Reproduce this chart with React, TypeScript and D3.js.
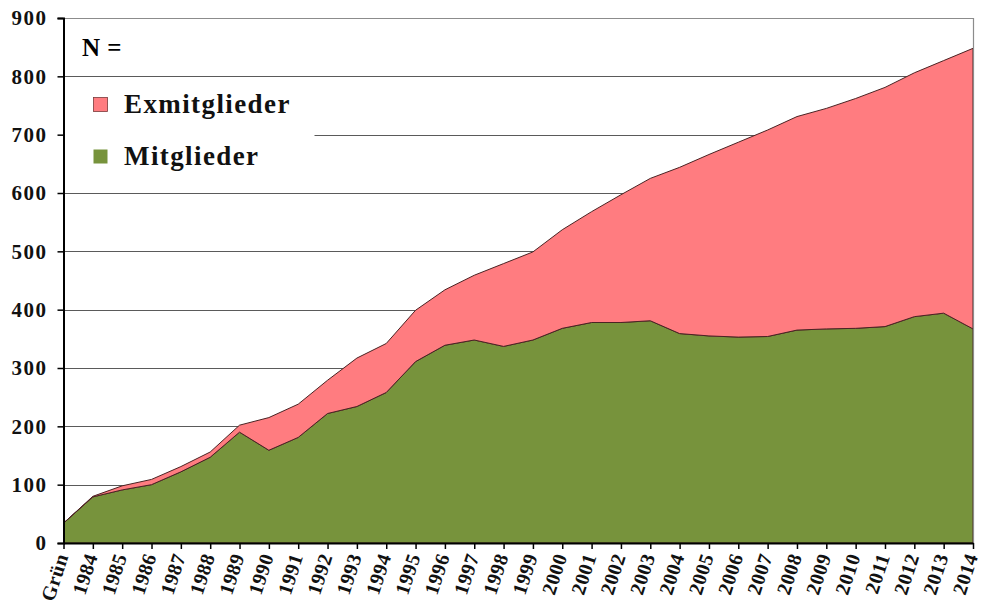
import React, { useEffect, useRef } from 'react';
import * as d3 from 'd3';

const years = ['Grün', '1984', '1985', '1986', '1987', '1988', '1989', '1990', '1991', '1992', '1993', '1994', '1995', '1996', '1997', '1998', '1999', '2000', '2001', '2002', '2003', '2004', '2005', '2006', '2007', '2008', '2009', '2010', '2011', '2012', '2013', '2014'];
const mitglieder = [34, 79, 91, 100, 122, 147, 190, 159, 181, 222, 234, 258, 311, 339, 348, 337, 348, 368, 378, 378, 381, 359, 355, 353, 354, 365, 367, 368, 371, 388, 394, 367];
const exmitglieder = [0, 1, 7, 9, 9, 9, 12, 56, 57, 57, 83, 84, 88, 95, 111, 142, 151, 169, 190, 219, 244, 285, 311, 334, 354, 366, 378, 394, 410, 418, 433, 481];
const yTicks = [0, 100, 200, 300, 400, 500, 600, 700, 800, 900];

const series = [
  { key: 'mitglieder', label: 'Mitglieder', color: '#77933c' },
  { key: 'exmitglieder', label: 'Exmitglieder', color: '#ff7c80' },
];

const font = '"Liberation Serif", "DejaVu Serif", serif';

const App = () => {
  const d3Container = useRef<SVGSVGElement | null>(null);

  useEffect(() => {
    if (!d3Container.current) return;
    const svg = d3.select(d3Container.current);
    svg.selectAll('*').remove();

    const margin = { top: 18, right: 8, bottom: 69, left: 63.5 };
    const width = 981;
    const height = 612;

    const xScale = d3.scalePoint().domain(years).range([margin.left, width - margin.right]);
    const yScale = d3.scaleLinear().domain([0, 900]).range([height - margin.bottom, margin.top]);

    const table = years.map((y, i) => ({ year: y, mitglieder: mitglieder[i], exmitglieder: exmitglieder[i] }));
    const stacked = d3.stack().keys(series.map((s) => s.key))(table as any);

    // gridlines
    svg
      .append('g')
      .selectAll('line')
      .data(yTicks.filter((t) => t > 0))
      .join('line')
      .attr('x1', margin.left)
      .attr('x2', width - margin.right)
      .attr('y1', (d) => Math.round(yScale(d)) + 0.5)
      .attr('y2', (d) => Math.round(yScale(d)) + 0.5)
      .attr('stroke', (d) => (d === 900 ? '#8c8c8c' : '#5a5a5a'))
      .attr('stroke-width', 1.2);

    const area = d3
      .area<any>()
      .x((d) => xScale(d.data.year))
      .y0((d) => yScale(d[0]))
      .y1((d) => yScale(d[1]));

    svg
      .append('g')
      .selectAll('path')
      .data(stacked)
      .join('path')
      .attr('d', area as any)
      .attr('fill', (d, i) => series[i].color)
      .attr('stroke', '#4a2323')
      .attr('stroke-width', 1)
      .attr('stroke-linejoin', 'round');

    // right border
    svg
      .append('line')
      .attr('x1', width - margin.right + 0.5)
      .attr('x2', width - margin.right + 0.5)
      .attr('y1', yScale(900))
      .attr('y2', yScale(0))
      .attr('stroke', '#8c8c8c')
      .attr('stroke-width', 1.2);

    // legend
    svg.append('rect').attr('x', margin.left + 1).attr('y', 84).attr('width', 250).attr('height', 92).attr('fill', '#fff');
    svg
      .append('text')
      .attr('x', 82)
      .attr('y', 56)
      .attr('font-family', font)
      .attr('font-weight', 'bold')
      .attr('font-size', 25)
      .attr('letter-spacing', 0.5)
      .text('N =');

    const legendItems = [series[1], series[0]];
    legendItems.forEach((s, i) => {
      const ly = 97 + i * 52;
      svg
        .append('rect')
        .attr('x', 93.5)
        .attr('y', ly + 0.5)
        .attr('width', 14)
        .attr('height', 14)
        .attr('fill', s.color)
        .attr('stroke', i === 0 ? '#7a3a3a' : 'none')
        .attr('stroke-width', 0.8);
      svg
        .append('text')
        .attr('x', 124)
        .attr('y', ly + 16)
        .attr('font-family', font)
        .attr('font-weight', 'bold')
        .attr('font-size', 27)
        .attr('letter-spacing', 1.4)
        .attr('fill', '#111')
        .text(s.label);
    });

    // y axis
    const yAxis = svg
      .append('g')
      .attr('transform', `translate(${margin.left},0)`)
      .call(d3.axisLeft(yScale).tickValues(yTicks).tickSize(6).tickPadding(10));
    yAxis.select('.domain').attr('stroke', '#000').attr('stroke-width', 2);
    yAxis.selectAll('.tick line').attr('stroke', '#000').attr('stroke-width', 1.5);
    yAxis
      .selectAll('.tick text')
      .attr('font-family', font)
      .attr('font-weight', 'bold')
      .attr('font-size', 21)
      .attr('letter-spacing', 1.5)
      .attr('fill', '#111');

    // x axis
    const xAxis = svg
      .append('g')
      .attr('transform', `translate(0,${yScale(0)})`)
      .call(d3.axisBottom(xScale).tickSize(6).tickSizeOuter(0));
    xAxis.select('.domain').attr('stroke', '#000').attr('stroke-width', 2);
    xAxis.selectAll('.tick line').attr('stroke', '#000').attr('stroke-width', 1.5);
    xAxis
      .selectAll('.tick text')
      .attr('font-family', font)
      .attr('font-weight', 'bold')
      .attr('font-size', 20)
      .attr('letter-spacing', 0.5)
      .attr('fill', '#111')
      .attr('text-anchor', 'end')
      .attr('x', 0)
      .attr('y', 0)
      .attr('dy', '0.35em')
      .attr('transform', 'translate(-2,11) rotate(-72)');
  }, []);

  return <svg ref={d3Container} width={981} height={612} style={{ position: 'absolute', left: 0, top: 0, background: '#fff' }} />;
};

export default App;
